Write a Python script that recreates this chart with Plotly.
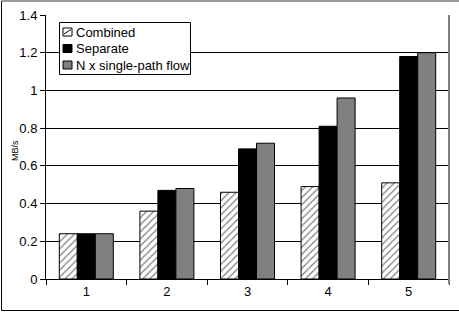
import plotly.graph_objects as go

categories = ["1", "2", "3", "4", "5"]
combined = [0.24, 0.36, 0.46, 0.49, 0.51]
separate = [0.24, 0.47, 0.69, 0.81, 1.18]
n_single = [0.24, 0.48, 0.72, 0.96, 1.20]
series_names = ["Combined", "Separate", "N x single-path flow"]
y_ticks = [0, 0.2, 0.4, 0.6, 0.8, 1.0, 1.2, 1.4]
y_tick_labels = ["0", "0.2", "0.4", "0.6", "0.8", "1", "1.2", "1.4"]

FONT = "Liberation Sans, Arial, sans-serif"
FS = 13

fig = go.Figure()
fig.add_trace(go.Bar(
    x=categories, y=combined, name=series_names[0],
    marker=dict(color="white", line=dict(color="black", width=1),
                pattern=dict(shape="/", fgcolor="black", bgcolor="white",
                             size=5, solidity=0.25)),
))
fig.add_trace(go.Bar(
    x=categories, y=separate, name=series_names[1],
    marker=dict(color="black", line=dict(color="black", width=1)),
))
fig.add_trace(go.Bar(
    x=categories, y=n_single, name=series_names[2],
    marker=dict(color="#808080", line=dict(color="black", width=1)),
))

L, R, T, B = 46, 10, 15, 34
W, H = 459, 313
pw = W - L - R
ph = H - T - B

def px_x(p):
    return (p - L) / pw

def px_y(p):
    return (H - B - p) / ph

shapes = [
    dict(type="line", xref="paper", yref="paper", x0=1, x1=1,
         y0=px_y(284), y1=1, line=dict(color="#808080", width=2)),
    dict(type="rect", xref="paper", yref="paper",
         x0=px_x(1.5), x1=px_x(470), y0=px_y(310.5), y1=px_y(1),
         line=dict(color="black", width=1)),
    dict(type="line", xref="paper", yref="paper",
         x0=px_x(1.5), x1=px_x(470), y0=px_y(1), y1=px_y(1),
         line=dict(color="#999999", width=2)),
    # legend box
    dict(type="rect", xref="paper", yref="paper",
         x0=px_x(59.5), x1=px_x(190.5), y0=px_y(74.5), y1=px_y(22.5),
         line=dict(color="black", width=1), fillcolor="white", layer="above"),
]
annotations = [
    dict(text="MB/s", xref="paper", yref="paper", x=px_x(8), y=px_y(151),
         textangle=-90, showarrow=False,
         font=dict(family=FONT, size=9, color="black")),
]
legend_fills = ["white", "black", "#808080"]
row_y = [32, 48.5, 65]
for name, fill, ry in zip(series_names, legend_fills, row_y):
    shapes.append(dict(type="rect", xref="paper", yref="paper",
                       x0=px_x(63), x1=px_x(72),
                       y0=px_y(ry + 4), y1=px_y(ry - 4),
                       line=dict(color="black", width=1), fillcolor=fill,
                       layer="above"))
    if fill == "white":
        shapes.append(dict(type="line", xref="paper", yref="paper",
                           x0=px_x(64), x1=px_x(71),
                           y0=px_y(ry + 2), y1=px_y(ry - 2.5),
                           line=dict(color="black", width=1), layer="above"))
    annotations.append(dict(text=name, xref="paper", yref="paper",
                            x=px_x(73.5), y=px_y(ry), xanchor="left",
                            yanchor="middle", showarrow=False,
                            font=dict(family=FONT, size=FS, color="black")))

fig.update_layout(
    width=W, height=H,
    margin=dict(l=L, r=R, t=T, b=B, autoexpand=False),
    paper_bgcolor="white", plot_bgcolor="white",
    barmode="group", bargap=0.33, bargroupgap=0,
    font=dict(family=FONT, size=FS, color="black"),
    showlegend=False,
    hovermode=False,
    xaxis=dict(
        type="category", showgrid=False, showline=True, linecolor="black",
        linewidth=1, ticks="outside", tickson="boundaries", ticklen=5,
        tickcolor="black", tickfont=dict(family=FONT, size=FS),
        zeroline=False, automargin=False,
    ),
    yaxis=dict(
        range=[0, 1.4], tickvals=y_ticks, ticktext=y_tick_labels,
        showgrid=True, gridcolor="black", gridwidth=1,
        showline=True, linecolor="black", linewidth=1,
        ticks="outside", ticklen=5, tickcolor="black",
        tickfont=dict(family=FONT, size=FS), zeroline=False,
        automargin=False,
    ),
    shapes=shapes,
    annotations=annotations,
)

fig.write_html("out.html",
               config={"displayModeBar": False},
               post_script="document.body.style.margin='0';"
                           "document.body.style.overflow='hidden';")
